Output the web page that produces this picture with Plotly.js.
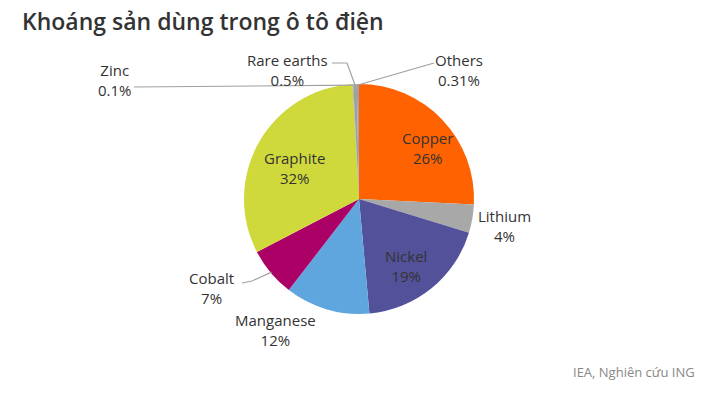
<!DOCTYPE html>
<html>
<head>
<meta charset="utf-8">
<script src="https://cdn.plot.ly/plotly-3.0.1.min.js"></script>
<style>html,body{margin:0;padding:0;background:#fff;}#chart{width:721px;height:411px;}</style>
</head>
<body>
<div id="chart"></div>
<script>
const labels = ["Copper", "Lithium", "Nickel", "Manganese", "Cobalt", "Graphite", "Zinc", "Rare earths", "Others"];
const values = [26, 4, 19, 12, 7, 32, 0.1, 0.5, 0.31];
const colors = ["#FF6200", "#A8A8A8", "#525199", "#60A6DE", "#AB0066", "#D0D93C", "#A0A0A0", "#A0A0A0", "#A0A0A0"];

const W = 721, H = 411;
const CX = 359, CY = 199, R = 115;
const px = x => x / W;
const py = y => 1 - y / H;

const total = values.reduce((a, b) => a + b, 0);
function midAngle(i) {
  let before = 0;
  for (let k = 0; k < i; k++) before += values[k];
  return (before + values[i] / 2) / total * 2 * Math.PI;
}
function edge(i, rr) {
  const a = midAngle(i);
  return [CX + rr * Math.sin(a), CY - rr * Math.cos(a)];
}

// label text centres (layout) and leader line starting points
const labelPos = {
  "Copper": [428, 148], "Graphite": [294, 168], "Nickel": [406, 266],
  "Lithium": [504, 226], "Manganese": [275, 330], "Cobalt": [211, 288],
  "Zinc": [115, 80], "Rare earths": [287, 70], "Others": [459, 70]
};
const leaders = {
  "Zinc": [[134, 87]],
  "Rare earths": [[332, 63], [347, 63]],
  "Others": [[434, 63]],
  "Cobalt": [[242, 283], [252, 281]]
};

const annotations = labels.map((lab, i) => ({
  x: px(labelPos[lab][0]), y: py(labelPos[lab][1]), xref: 'paper', yref: 'paper',
  text: lab + '<br>' + values[i] + '%', showarrow: false,
  xanchor: 'center', yanchor: 'middle',
  font: {family: 'Open Sans, sans-serif', size: 15, color: '#333'}
}));
annotations.push({
  x: px(697), y: py(372), xref: 'paper', yref: 'paper', xanchor: 'right', yanchor: 'middle',
  text: 'IEA, Nghiên cứu ING', showarrow: false,
  font: {family: 'Open Sans, sans-serif', size: 13, color: '#888'}
});

const shapes = Object.keys(leaders).map(lab => {
  const i = labels.indexOf(lab);
  const pts = leaders[lab].concat([edge(i, R - 1)]);
  const path = pts.map((p, k) => (k ? 'L' : 'M') + px(p[0]) + ',' + py(p[1])).join(' ');
  return {type: 'path', xref: 'paper', yref: 'paper', path: path,
          line: {color: '#A0A0A0', width: 1.2}};
});

const data = [{
  type: 'pie', labels: labels, values: values, sort: false, direction: 'clockwise', rotation: 0,
  marker: {colors: colors, line: {width: 0}},
  textinfo: 'none', hoverinfo: 'label+value',
  domain: {x: [px(CX - R), px(CX + R)], y: [py(CY + R), py(CY - R)]},
  showlegend: false
}];

const layout = {
  width: W, height: H, margin: {l: 0, r: 0, t: 0, b: 0},
  paper_bgcolor: '#fff', plot_bgcolor: '#fff',
  title: {text: 'Khoáng sản dùng trong ô tô điện', x: px(22), xanchor: 'left',
          xref: 'container', yref: 'container', y: 1 - 22 / H, yanchor: 'middle',
          font: {family: 'Open Sans, sans-serif', size: 23, color: '#333', weight: 600}},
  annotations: annotations, shapes: shapes
};

Plotly.newPlot('chart', data, layout, {displayModeBar: false, staticPlot: true});
</script>
</body>
</html>
